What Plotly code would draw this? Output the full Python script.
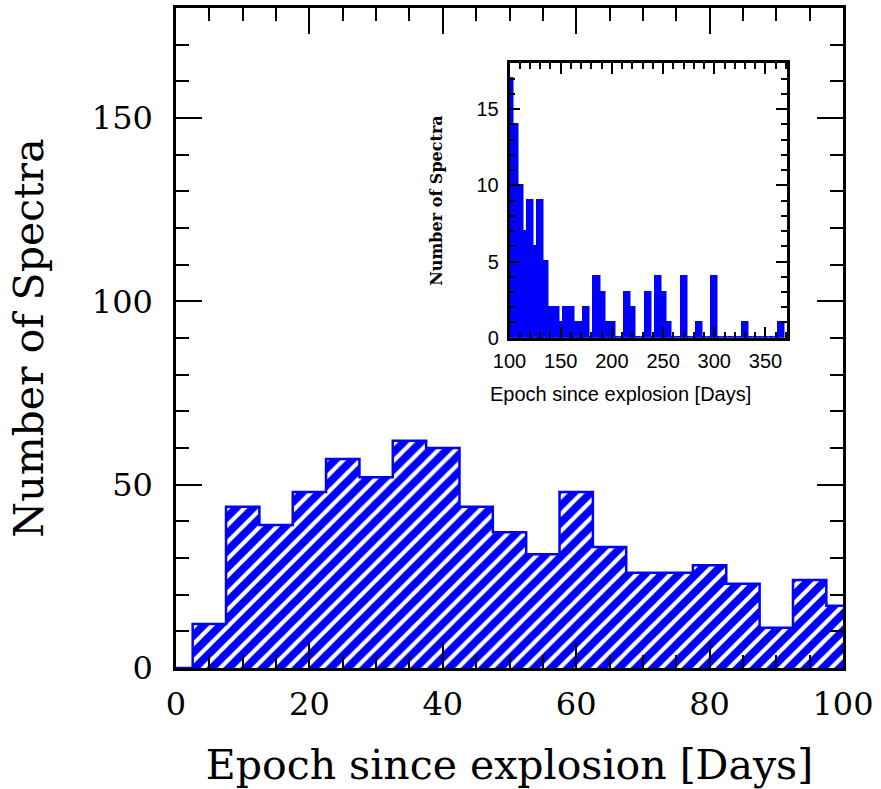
import plotly.graph_objects as go

# ---- data ----
main_centers = [5, 10, 15, 20, 25, 30, 35, 40, 45, 50, 55, 60, 65, 70, 75, 80, 85, 90, 95, 100]
main_counts = [12, 44, 39, 48, 57, 52, 62, 60, 44, 37, 31, 48, 33, 26, 26, 28, 23, 11, 24, 17]
bin_width = 5

inset_centers = list(range(100, 370, 5))
inset_counts = [17, 14, 10, 7, 9, 6, 9, 5, 2, 2, 1, 2, 2, 1, 1, 2, 0, 4, 3, 1,
                1, 0, 0, 3, 2, 0, 0, 3, 0, 4, 3, 1, 0, 0, 4, 0, 0, 1, 0, 0,
                4, 0, 0, 0, 0, 0, 1, 0, 0, 0, 0, 0, 0, 1]

main_xticks = [0, 20, 40, 60, 80, 100]
main_yticks = [0, 50, 100, 150]
inset_xticks = [100, 150, 200, 250, 300, 350]
inset_yticks = [0, 5, 10, 15]

BLUE = "#0000ff"
SERIF = "DejaVu Serif"
SANS = "Liberation Sans, Arial, sans-serif"

fig = go.Figure()

# main hatched histogram
fig.add_trace(go.Bar(
    x=main_centers, y=main_counts, width=bin_width,
    marker=dict(color="white", line=dict(width=0),
                pattern=dict(shape="/", fgcolor=BLUE, bgcolor="white",
                             size=12, solidity=0.66, fillmode="replace")),
    xaxis="x", yaxis="y", showlegend=False, hoverinfo="skip"))

# step outline from data
edges = [c - bin_width / 2 for c in main_centers] + [main_centers[-1] + bin_width / 2]
step_x = [0] + edges
step_y = [0] + main_counts + [main_counts[-1]]
fig.add_trace(go.Scatter(
    x=step_x, y=step_y, mode="lines", line=dict(color=BLUE, width=2.5, shape="hv"),
    xaxis="x", yaxis="y", showlegend=False, hoverinfo="skip"))

# inset solid histogram
fig.add_trace(go.Bar(
    x=inset_centers, y=inset_counts, width=bin_width,
    marker=dict(color=BLUE, line=dict(color=BLUE, width=2.5)),
    xaxis="x2", yaxis="y2", showlegend=False, hoverinfo="skip"))

main_axis_common = dict(
    showline=True, linecolor="black", linewidth=2.5, mirror="allticks",
    ticks="inside", tickcolor="black", tickwidth=2, ticklen=26,
    showgrid=False, zeroline=False,
    tickfont=dict(family=SERIF, size=32, color="black"),
)
inset_axis_common = dict(
    showline=True, linecolor="black", linewidth=2.5, mirror="allticks",
    ticks="inside", tickcolor="black", tickwidth=2, ticklen=11,
    showgrid=False, zeroline=False,
    tickfont=dict(family=SANS, size=20, color="black"),
)

fig.update_layout(
    width=881, height=789,
    margin=dict(l=176, r=38, t=5, b=120),
    paper_bgcolor="white", plot_bgcolor="white",
    bargap=0,
    xaxis=dict(domain=[0, 1], range=[0, 100], anchor="y",
               tickmode="array", tickvals=main_xticks,
               minor=dict(dtick=5, ticklen=13, ticks="inside", tickcolor="black", tickwidth=2),
               ticklabelstandoff=6,
               title=dict(text="Epoch since explosion [Days]",
                          font=dict(family=SERIF, size=41, color="black"), standoff=32),
               **main_axis_common),
    yaxis=dict(domain=[0, 1], range=[0, 180], anchor="x",
               tickmode="array", tickvals=main_yticks,
               minor=dict(dtick=10, ticklen=13, ticks="inside", tickcolor="black", tickwidth=2),
               ticklabelstandoff=14,
               title=dict(text="Number of Spectra",
                          font=dict(family=SERIF, size=41, color="black"), standoff=36),
               **main_axis_common),
    xaxis2=dict(domain=[0.5, 0.916], range=[100, 371], anchor="y2",
                tickmode="array", tickvals=inset_xticks,
                minor=dict(dtick=10, ticklen=6, ticks="inside", tickcolor="black", tickwidth=2),
                ticklabelstandoff=4,
                **inset_axis_common),
    yaxis2=dict(domain=[0.5005, 0.916], range=[0, 18], anchor="x2",
                tickmode="array", tickvals=inset_yticks,
                minor=dict(dtick=1, ticklen=6, ticks="inside", tickcolor="black", tickwidth=2),
                ticklabelstandoff=4,
                title=dict(text="<b>Number of Spectra</b>",
                           font=dict(family=SERIF, size=16, color="black"), standoff=30),
                **inset_axis_common),
    annotations=[dict(text="Epoch since explosion [Days]", xref="paper", yref="paper",
                      x=0.6657, y=0.4157, xanchor="center", yanchor="middle",
                      showarrow=False, font=dict(family=SANS, size=20, color="black"))],
)

fig.write_html("out.html")
